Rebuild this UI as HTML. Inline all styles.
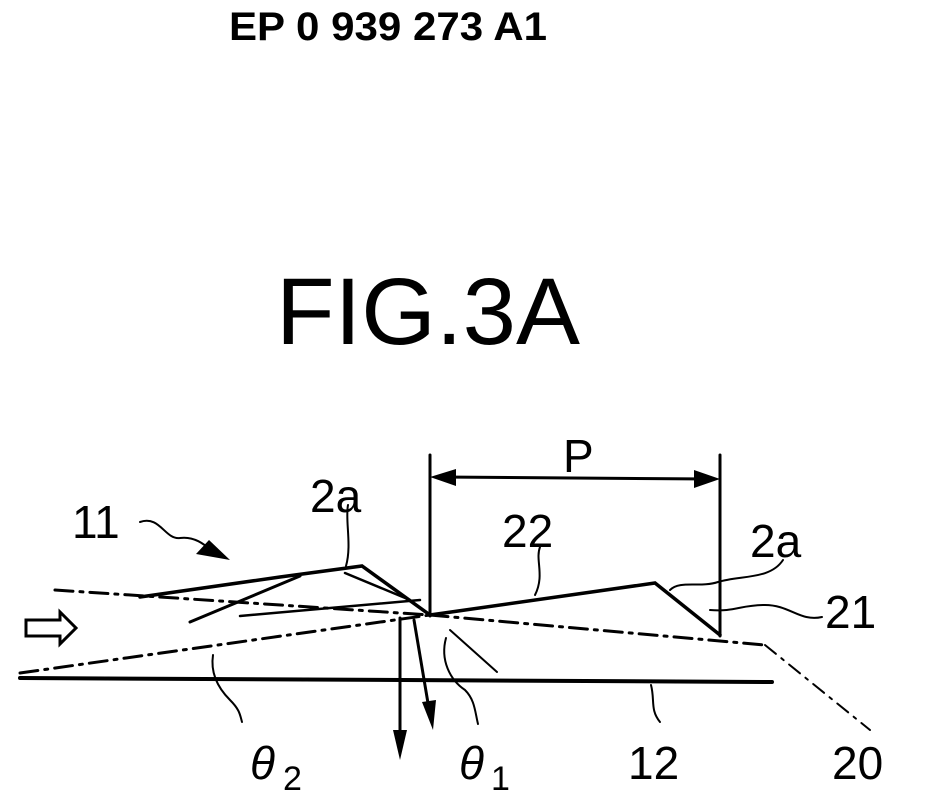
<!DOCTYPE html>
<html><head><style>
html,body{margin:0;padding:0;background:#fff;}
svg{display:block;}
text{font-family:"Liberation Sans",sans-serif;fill:#000;}
</style></head><body>
<svg width="945" height="809" viewBox="0 0 945 809" xmlns="http://www.w3.org/2000/svg">
<text x="229" y="40" font-size="40" font-weight="bold" textLength="318" lengthAdjust="spacingAndGlyphs">EP 0 939 273 A1</text>
<text x="276" y="344" font-size="95" textLength="304" lengthAdjust="spacingAndGlyphs">FIG.3A</text>
<g stroke="#000" fill="none" stroke-linecap="round">
<line x1="430" y1="455" x2="430" y2="616" stroke-width="3"/>
<line x1="720" y1="455" x2="720" y2="636" stroke-width="3"/>
<line x1="440" y1="477" x2="710" y2="479" stroke-width="3"/>
<line x1="20" y1="678" x2="772" y2="682" stroke-width="4"/>
<polyline points="140,597 280,577 362,566 430,615 655,583 720,635" stroke-width="3.5"/>
<line x1="300" y1="576" x2="190" y2="622" stroke-width="3"/>
<line x1="240" y1="616" x2="420" y2="600" stroke-width="2.5"/>
<line x1="345" y1="573" x2="410" y2="600" stroke-width="2.5"/>
<line x1="55" y1="590" x2="430" y2="615" stroke-width="3" stroke-dasharray="18,7,3,7"/>
<line x1="430" y1="615" x2="765" y2="645" stroke-width="3" stroke-dasharray="18,7,3,7"/>
<line x1="765" y1="645" x2="870" y2="730" stroke-width="2" stroke-dasharray="14,7,3,7"/>
<line x1="20" y1="673" x2="430" y2="615" stroke-width="3" stroke-dasharray="18,7,3,7"/>
<line x1="400" y1="618" x2="400" y2="740" stroke-width="3"/>
<line x1="414" y1="620" x2="430" y2="715" stroke-width="3"/>
<line x1="450" y1="630" x2="497" y2="672" stroke-width="2"/>
<path d="M140,522 C160,515 165,540 180,538 C195,536 205,545 215,553" stroke-width="2"/>
<path d="M348,505 C345,520 352,545 346,566" stroke-width="2"/>
<path d="M540,547 C535,560 545,575 535,595" stroke-width="2"/>
<path d="M783,560 C770,580 740,575 718,582 C700,588 680,580 670,590" stroke-width="2"/>
<path d="M822,617 C800,622 790,605 765,605 C740,605 735,612 710,610" stroke-width="2"/>
<path d="M213,655 C210,675 220,690 230,700 C240,710 240,715 242,722" stroke-width="2"/>
<path d="M446,638 C440,660 450,680 465,690 C475,700 475,712 478,724" stroke-width="2"/>
<path d="M651,685 C655,700 650,710 660,722" stroke-width="2"/>
</g>
<polygon points="430,477 456,469 456,486" fill="#000"/>
<polygon points="720,479 694,470 694,488" fill="#000"/>
<polygon points="400,760 393,730 407,730" fill="#000"/>
<polygon points="433,730 422,702 436,700" fill="#000"/>
<polygon points="230,560 196,554 209,540" fill="#000"/>
<polygon points="26,620 60,620 60,612 76,628 60,644 60,636 26,636" fill="#fff" stroke="#000" stroke-width="3"/>
<g font-size="46">
<text x="72" y="538">11</text>
<text x="310" y="512">2a</text>
<text x="502" y="547">22</text>
<text x="750" y="557">2a</text>
<text x="825" y="628">21</text>
<text x="628" y="779">12</text>
<text x="832" y="779">20</text>
<text x="563" y="472">P</text>
<text x="250" y="779" font-style="italic">θ</text>
<text x="459" y="779" font-style="italic">θ</text>
</g>
<text x="283" y="790" font-size="34">2</text>
<text x="491" y="790" font-size="34">1</text>
</svg>
</body></html>
